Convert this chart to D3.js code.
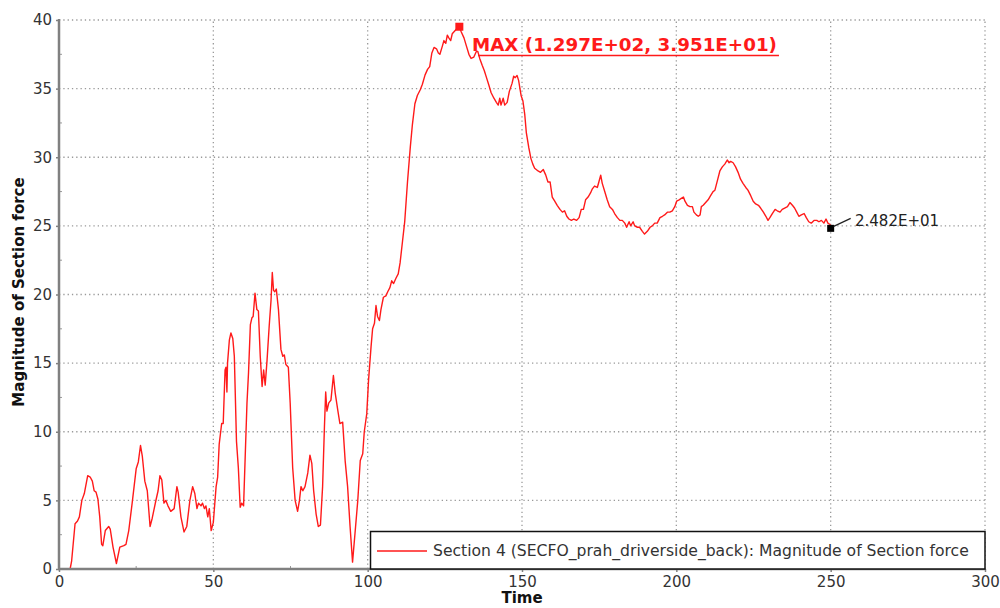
<!DOCTYPE html>
<html>
<head>
<meta charset="utf-8">
<script src="https://cdn.jsdelivr.net/npm/d3@7"></script>
<style>
  body { margin: 0; background: #fff; }
  svg { display: block; font-family: 'DejaVu Sans', sans-serif; }
</style>
</head>
<body>
<script>
// curve: time and section force magnitude
const time = [
  0, 3.6, 4.1, 5.2, 6, 6.6, 7.4, 8.2, 9.3, 10.1, 10.8, 11.4, 12, 12.6, 13.2, 13.8, 14.2, 15, 16.1, 16.6,
  17.5, 18.6, 19.7, 21, 21.7, 22.6, 23.7, 25, 25.7, 26.4, 27, 27.8, 28.6, 29.5, 30.2, 31.3, 32.1, 32.7, 33.3, 34,
  34.6, 35.3, 36.2, 37.3, 38.2, 38.6, 39.5, 40.5, 41.4, 42.4, 43.3, 44, 44.7, 45.2, 46, 46.5, 47.1, 47.6, 48.2, 48.7,
  49.3, 50, 50.9, 51.4, 51.9, 52.7, 53.2, 53.8, 54.1, 54.4, 54.6, 55.2, 55.7, 56.3, 56.8, 57.5, 58.1, 58.7, 59.2, 59.8,
  60.4, 60.9, 61.4, 62, 62.5, 62.9, 63.5, 64.1, 64.6, 65.2, 65.8, 66.3, 66.8, 67.4, 68.1, 68.7, 69.1, 69.5, 69.9, 70.4,
  71.1, 71.9, 72.5, 73, 73.5, 74.3, 74.9, 75.7, 76.5, 77.3, 77.9, 78.4, 79, 79.7, 80.6, 81.3, 81.9, 82.5, 83.3, 84,
  84.7, 85.4, 86, 86.4, 86.8, 87.4, 88.1, 88.9, 89.5, 90.3, 91, 91.9, 92.7, 93.5, 94.3, 95.1, 95.9, 96.8, 97.6, 98.4,
  98.9, 99.7, 100.3, 101.1, 101.6, 102.2, 102.7, 103.2, 103.8, 104.3, 105.1, 105.9, 106.5, 107.2, 107.8, 108.4, 109.2, 109.9, 110.5, 111.3,
  112, 112.9, 113.8, 114.5, 115.3, 116.1, 117, 117.7, 118.6, 119.4, 120.1, 120.8, 121.5, 122.3, 122.9, 123.4, 124.2, 124.7, 125.3, 125.8,
  126.3, 126.9, 127.4, 128.2, 129, 129.7, 130.3, 131.2, 132, 132.8, 133.5, 134.4, 135.2, 135.7, 136.3, 137.1, 137.8, 138.5, 139.2, 140,
  140.9, 141.7, 142.3, 142.8, 143.2, 143.9, 144.4, 145.2, 145.9, 146.8, 147.3, 147.8, 148.4, 148.9, 149.7, 150.3, 150.9, 151.4, 152.2, 152.9,
  153.5, 154.1, 155.2, 156, 156.9, 157.7, 158.4, 159.1, 159.8, 160.6, 161.4, 162.3, 163.1, 163.8, 164.5, 165.2, 166, 166.8, 167.7, 168.5,
  169.2, 169.9, 170.6, 171.4, 172.2, 172.8, 173.5, 174.4, 174.9, 175.5, 176, 176.8, 177.6, 178.4, 179.3, 180, 180.9, 181.7, 182.5, 183.3,
  183.9, 184.7, 185.2, 186, 186.5, 187.4, 188.1, 189, 189.7, 190.6, 191.5, 192.2, 193, 193.8, 194.7, 195.5, 196.2, 197.1, 197.9, 198.7,
  199.5, 200.1, 200.9, 201.6, 202.3, 202.8, 203.6, 204.4, 205.2, 205.7, 206.5, 207.1, 207.7, 208.1, 208.7, 209.5, 210.3, 211.1, 211.9, 212.5,
  213.3, 214.1, 214.9, 215.7, 216.5, 217.1, 217.6, 218.4, 219.2, 220, 220.8, 221.6, 222.5, 223.2, 224.1, 224.9, 225.7, 226.6, 227.3, 228.2,
  229, 229.7, 230.3, 231.1, 232, 232.7, 233.6, 234.3, 235.1, 236, 236.8, 237.6, 238.3, 239, 239.7, 240.5, 241.4, 242.1, 242.9, 243.7,
  244.6, 245.5, 246.2, 247, 247.8, 248.5, 249.1, 249.8, 250
];
const force = [
  0, 0, 0.6, 3.3, 3.5, 3.8, 5.0, 5.5, 6.8, 6.7, 6.4, 5.7, 5.6, 5.1, 3.8, 1.8, 1.7, 2.8, 3.1, 2.9,
  1.6, 0.4, 1.6, 1.7, 1.8, 2.8, 4.8, 7.3, 7.8, 9.0, 8.2, 6.4, 5.7, 3.1, 3.7, 4.9, 5.7, 6.8, 6.5, 4.8,
  5.0, 4.6, 4.2, 4.4, 6.0, 5.6, 3.8, 2.7, 3.1, 5.0, 6.0, 5.5, 4.4, 4.8, 4.6, 4.8, 4.4, 4.6, 3.8, 4.4,
  2.8, 3.4, 6.0, 6.7, 9.1, 10.6, 10.6, 14.5, 14.7, 12.9, 15.0, 16.7, 17.2, 16.8, 15.5, 9.3, 7.4, 4.5, 4.8, 4.6,
  8.7, 12.1, 14.3, 17.8, 18.3, 18.4, 20.1, 18.9, 18.8, 15.5, 13.3, 14.5, 13.4, 15.2, 17.7, 19.6, 21.6, 20.3, 20.2, 20.4,
  18.9, 16.0, 15.5, 15.6, 14.9, 14.7, 12.1, 7.4, 5.0, 4.2, 5.0, 6.0, 5.7, 6.0, 7.0, 8.3, 7.7, 5.7, 4.0, 3.1,
  3.2, 6.0, 10.4, 12.9, 11.5, 12.1, 12.3, 14.1, 12.8, 11.6, 10.6, 10.7, 7.9, 6.0, 3.1, 0.5, 2.6, 5.0, 7.9, 8.4,
  10.0, 11.3, 13.8, 16.2, 17.5, 17.9, 19.2, 18.4, 18.1, 18.9, 19.8, 19.9, 20.2, 20.5, 21.0, 20.8, 21.2, 21.5, 22.3, 23.9,
  25.3, 28.2, 30.7, 32.4, 33.9, 34.5, 34.9, 35.3, 36.0, 36.4, 36.6, 37.6, 38.0, 37.9, 37.6, 37.5, 38.1, 38.5, 38.3, 38.9,
  38.7, 38.5, 39.0, 39.2, 39.4, 39.51, 39.15, 38.7, 38.1, 37.5, 37.2, 37.3, 37.7, 37.7, 37.2, 36.7, 36.3, 35.8, 35.3, 34.7,
  34.3, 34.0, 33.8, 34.3, 33.8, 34.3, 33.8, 34.0, 34.8, 35.4, 35.9, 35.8, 35.95, 35.6, 34.5, 34.1, 33.1, 31.8, 30.7, 29.9,
  29.5, 29.2, 29.0, 28.9, 29.1, 28.7, 28.2, 28.2, 27.1, 26.8, 26.5, 26.2, 26.0, 26.1, 25.7, 25.5, 25.4, 25.5, 25.4, 25.6,
  26.2, 26.2, 26.9, 27.1, 27.4, 27.7, 27.9, 27.8, 28.2, 28.7, 28.1, 27.5, 26.9, 26.4, 26.2, 25.9, 25.6, 25.4, 25.4, 25.2,
  24.9, 25.3, 25.0, 25.3, 25.0, 24.9, 24.9, 24.6, 24.4, 24.6, 24.9, 25.0, 25.2, 25.2, 25.6, 25.7, 25.8, 26.0, 26.0, 26.1,
  26.4, 26.8, 26.9, 27.0, 27.1, 26.8, 26.5, 26.4, 26.4, 26.0, 25.8, 25.7, 25.8, 26.4, 26.5, 26.7, 26.9, 27.2, 27.5, 27.6,
  28.3, 29.0, 29.3, 29.5, 29.8, 29.6, 29.7, 29.6, 29.3, 28.9, 28.4, 28.1, 27.8, 27.6, 27.2, 26.8, 26.6, 26.5, 26.3, 26.0,
  25.7, 25.4, 25.6, 25.9, 26.2, 26.1, 26.0, 26.2, 26.3, 26.4, 26.7, 26.5, 26.3, 26.0, 25.7, 25.8, 25.9, 25.6, 25.3, 25.2,
  25.4, 25.4, 25.3, 25.4, 25.2, 25.5, 25.2, 25.1, 24.82
];

const xTicks = [0, 50, 100, 150, 200, 250, 300];
const yTicks = [0, 5, 10, 15, 20, 25, 30, 35, 40];
const xMinor = [25, 75, 125, 175, 225, 275];
const yMinor = [2.5, 7.5, 12.5, 17.5, 22.5, 27.5, 32.5, 37.5];

const maxPoint = [129.7, 39.51];
const maxLabel = 'MAX (1.297E+02, 3.951E+01)';
const endPoint = [250, 24.82];
const endLabel = '2.482E+01';
const legendLabel = 'Section 4 (SECFO_prah_driverside_back): Magnitude of Section force';

const width = 1000;
const height = 608;

const x = d3.scaleLinear().domain([0, 300]).range([59, 985]);
const y = d3.scaleLinear().domain([0, 40]).range([569, 20]);

const svg = d3.select('body')
  .append('svg')
  .attr('width', width)
  .attr('height', height);

// dotted grid
const grid = svg.append('g').attr('stroke', '#9a9a9a').attr('stroke-width', 1.3).attr('stroke-dasharray', '1.3,3');
grid.selectAll('.gx')
  .data(xTicks.filter(d => d > 0))
  .enter()
  .append('line')
  .attr('x1', d => x(d)).attr('x2', d => x(d))
  .attr('y1', y(0)).attr('y2', y(40));
grid.selectAll('.gy')
  .data(yTicks.filter(d => d > 0))
  .enter()
  .append('line')
  .attr('x1', x(0)).attr('x2', x(300))
  .attr('y1', d => y(d)).attr('y2', d => y(d));

// axes
const xAxis = svg.append('g')
  .attr('transform', `translate(0,${ y(0) })`)
  .call(d3.axisBottom(x).tickValues(xTicks).tickSize(3).tickPadding(4));
const yAxis = svg.append('g')
  .attr('transform', `translate(${ x(0) },0)`)
  .call(d3.axisLeft(y).tickValues(yTicks).tickSize(3).tickPadding(4));

[xAxis, yAxis].forEach(a => {
  a.select('.domain').remove();
  a.selectAll('line').attr('stroke', '#808080').attr('stroke-width', 1.5);
  a.selectAll('text')
    .attr('fill', '#333')
    .style('font-size', '15px')
    .style('font-family', "'DejaVu Sans', sans-serif");
});

// minor ticks, drawn inwards
svg.append('g').selectAll('line')
  .data(xMinor)
  .enter()
  .append('line')
  .attr('x1', d => x(d)).attr('x2', d => x(d))
  .attr('y1', y(0)).attr('y2', y(0) - 3)
  .attr('stroke', '#999');
svg.append('g').selectAll('line')
  .data(yMinor)
  .enter()
  .append('line')
  .attr('x1', x(0)).attr('x2', x(0) + 3)
  .attr('y1', d => y(d)).attr('y2', d => y(d))
  .attr('stroke', '#999');

// force curve
const points = time.map((t, i) => [t, force[i]]);
const line = d3.line()
  .x(d => x(d[0]))
  .y(d => y(d[1]));

svg.append('path')
  .datum(points)
  .attr('d', line)
  .attr('fill', 'none')
  .attr('stroke', '#ff1a1a')
  .attr('stroke-width', 1.4)
  .attr('stroke-linejoin', 'round');

// axis lines on top
svg.append('line')
  .attr('x1', x(0)).attr('x2', x(0))
  .attr('y1', y(40) - 1).attr('y2', y(0) + 1)
  .attr('stroke', '#808080').attr('stroke-width', 2.5);
svg.append('line')
  .attr('x1', x(0) - 1).attr('x2', x(300))
  .attr('y1', y(0)).attr('y2', y(0))
  .attr('stroke', '#808080').attr('stroke-width', 2.5);

// legend
const legend = svg.append('g');
legend.append('rect')
  .attr('x', 370.5).attr('y', 531.5)
  .attr('width', x(300) - 370.5).attr('height', y(0) - 531.5)
  .attr('fill', '#fff')
  .attr('stroke', '#111')
  .attr('stroke-width', 1.5);
legend.append('line')
  .attr('x1', 377).attr('x2', 427)
  .attr('y1', 551).attr('y2', 551)
  .attr('stroke', '#ff1a1a').attr('stroke-width', 1.4);
legend.append('text')
  .attr('x', 433).attr('y', 556)
  .attr('fill', '#333')
  .style('font-size', '15.6px')
  .text(legendLabel);

// axis titles
svg.append('text')
  .attr('x', 522).attr('y', 603)
  .attr('text-anchor', 'middle')
  .attr('fill', '#111')
  .style('font-size', '15px')
  .style('font-weight', 'bold')
  .text('Time');
svg.append('text')
  .attr('transform', 'translate(24,292) rotate(-90)')
  .attr('text-anchor', 'middle')
  .attr('fill', '#111')
  .style('font-size', '15px')
  .style('font-weight', 'bold')
  .text('Magnitude of Section force');

// max annotation
svg.append('rect')
  .attr('x', x(maxPoint[0]) - 4).attr('y', y(maxPoint[1]) - 4)
  .attr('width', 8).attr('height', 8)
  .attr('fill', '#ff1a1a');
const maxText = svg.append('text')
  .attr('x', 472).attr('y', 51)
  .attr('fill', '#ff1a1a')
  .style('font-size', '18.3px')
  .style('font-weight', 'bold')
  .text(maxLabel);
const maxWidth = maxText.node().getComputedTextLength();
svg.append('line')
  .attr('x1', 478).attr('x2', 472 + maxWidth + 2)
  .attr('y1', 55.5).attr('y2', 55.5)
  .attr('stroke', '#ff1a1a').attr('stroke-width', 1.5);

// end value annotation
svg.append('rect')
  .attr('x', x(endPoint[0]) - 3.5).attr('y', y(endPoint[1]) - 3.5)
  .attr('width', 7).attr('height', 7)
  .attr('fill', '#000');
svg.append('line')
  .attr('x1', x(endPoint[0]) + 3).attr('y1', y(endPoint[1]) - 2)
  .attr('x2', x(endPoint[0]) + 20).attr('y2', y(endPoint[1]) - 10)
  .attr('stroke', '#222').attr('stroke-width', 1.2);
svg.append('text')
  .attr('x', 855).attr('y', 226)
  .attr('fill', '#222')
  .style('font-size', '15px')
  .text(endLabel);
</script>
</body>
</html>
